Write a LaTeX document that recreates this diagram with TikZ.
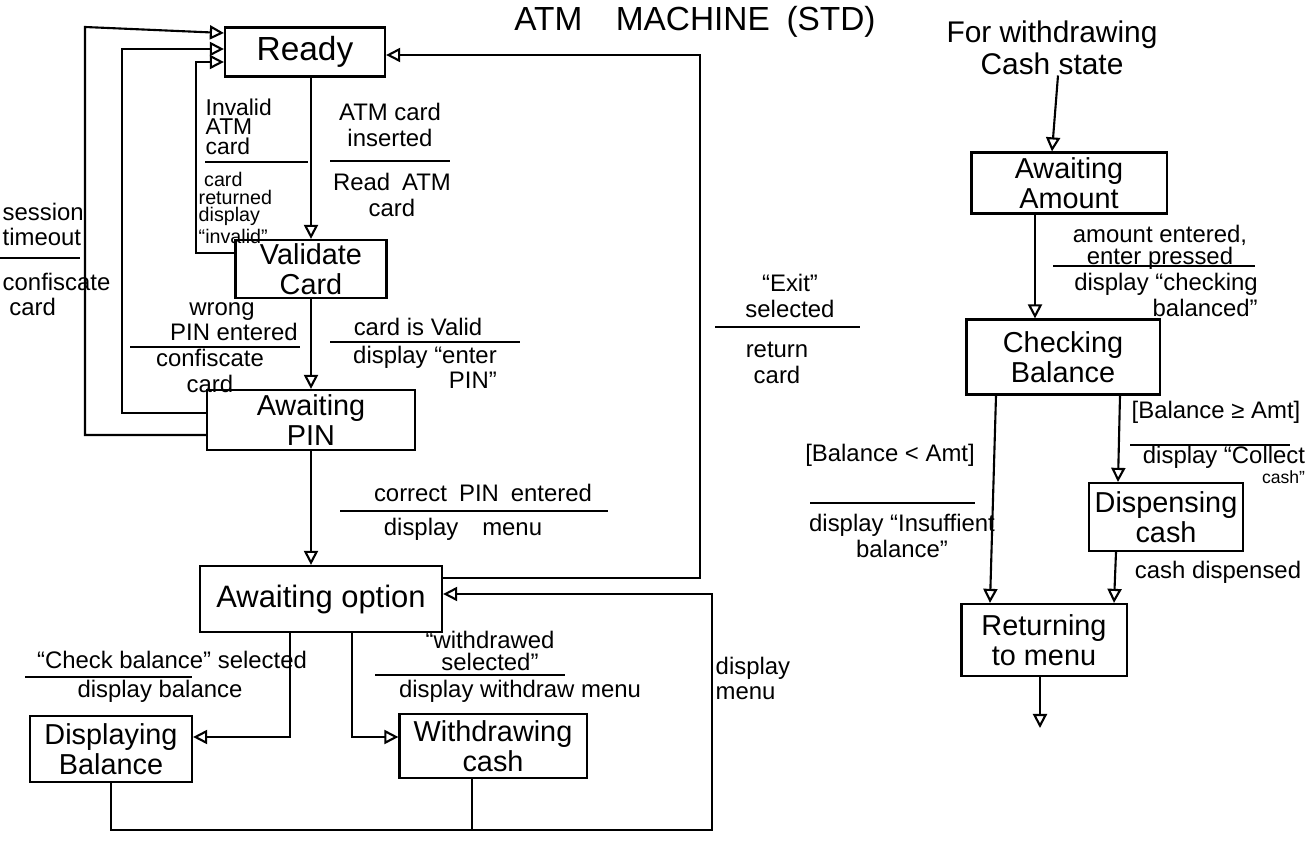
\documentclass[tikz,border=0pt]{standalone}
\usepackage{fontspec}
\setmainfont{Liberation Sans}
\usetikzlibrary{arrows.meta}

\begin{document}
\begin{tikzpicture}[x=0.01cm,y=-0.01cm,
    state/.style={draw,line width=0.6pt,inner sep=0pt,align=center,font=\fontsize{8.2}{8.6}\selectfont},
    lbl/.style={inner sep=0pt,align=center,font=\fontsize{6.8}{7.2}\selectfont},
    tip/.style={line width=0.6pt,-{Triangle[open,length=4pt,width=4pt]}},
    bar/.style={line width=0.5pt}]
  \useasboundingbox (0,0) rectangle (1306,849);

  % titles
  \node[font=\fontsize{9.5}{10}\selectfont] (title) at (695,22) {ATM\quad MACHINE\enspace(STD)};
  \node[lbl,font=\fontsize{8.5}{9}\selectfont] (start) at (1052,48) {For withdrawing\\Cash state};

  % states of the ATM
  \node[state,font=\fontsize{9.5}{10}\selectfont,minimum width=1.6cm,minimum height=0.49cm] (ready) at (305,52) {Ready};
  \node[state,minimum width=1.51cm,minimum height=0.58cm] (validate) at (311,269) {Validate\\Card};
  \node[state,minimum width=2.08cm,minimum height=0.6cm] (pin) at (311,420) {Awaiting\\PIN};
  \node[state,font=\fontsize{8.8}{9}\selectfont,minimum width=2.42cm,minimum height=0.66cm] (option) at (321,599) {Awaiting option};
  \node[state,minimum width=1.62cm,minimum height=0.66cm] (showbal) at (111,749) {Displaying\\Balance};
  \node[state,minimum width=1.87cm,minimum height=0.64cm] (withdraw) at (493,746) {Withdrawing\\cash};

  % states of withdrawing cash
  \node[state,minimum width=1.95cm,minimum height=0.61cm] (amount) at (1069,183) {Awaiting\\Amount};
  \node[state,minimum width=1.93cm,minimum height=0.75cm] (checkbal) at (1063,357) {Checking\\Balance};
  \node[state,minimum width=1.54cm,minimum height=0.68cm] (dispense) at (1166,517) {Dispensing\\cash};
  \node[state,minimum width=1.65cm,minimum height=0.72cm] (returnmenu) at (1044,640) {Returning\\to menu};
  \coordinate (finish) at (1040,728);

  % transitions
  \draw[tip] (validate.north |- ready.south) -- (validate.north);
  \draw[tip] (validate.west |- 0,253) -| (196,62) -- (ready.west |- 0,62);
  \draw[tip] (validate.south) -- (validate.south |- pin.north);
  \draw[tip] (pin.west |- 0,413) -| (122,49) -- (ready.west |- 0,49);
  \draw[tip] (pin.west |- 0,435) -| (85,27) -- (ready.west |- 0,33);
  \draw[tip] (pin.south) -- (pin.south |- option.north);
  \draw[tip] (option.east |- 0,578) -| (700,55) -- (ready.east |- 0,55);
  \draw[tip] (option.south -| 290,0) |- (showbal.east |- 0,737);
  \draw[tip] (option.south -| 352,0) |- (withdraw.west |- 0,737);
  \draw[tip] (showbal.south) |- (712,830) |- (option.east |- 0,594);
  \draw[line width=0.6pt] (withdraw.south -| 472,0) -- (472,830);

  \draw[tip] (start.south -| 1058,0) -- (amount.north -| 1052,0);
  \draw[tip] (amount.south -| 1035,0) -- (checkbal.north -| 1035,0);
  \draw[tip] (checkbal.south -| 996,0) -- (returnmenu.north -| 990,0);
  \draw[tip] (checkbal.south -| 1120,0) -- (dispense.north -| 1118,0);
  \draw[tip] (dispense.south -| 1116,0) -- (returnmenu.north -| 1114,0);
  \draw[tip] (returnmenu.south -| 1040,0) -- (finish);

  % guards and actions
  \node[lbl,align=left,anchor=north west,font=\fontsize{6.5}{5.6}\selectfont] (invalid) at (205,98) {Invalid\\ATM\\card};
  \draw[bar] (205,162) -- (308,162);
  \node[lbl,align=left,anchor=north west,font=\fontsize{5.6}{4.9}\selectfont] (returned) at (198,172) {\ card\\returned\\display\\``invalid''};

  \node[lbl] (inserted) at (390,125) {ATM card\\inserted};
  \draw[bar] (330,161) -- (450,161);
  \node[lbl] (readcard) at (392,195) {Read\enspace ATM\\card};

  \node[lbl,align=left,anchor=north west] (timeout) at (2,202) {session\\timeout};
  \draw[bar] (0,258) -- (80,258);
  \node[lbl,align=left,anchor=north west] (confis1) at (2,272) {confiscate\\\ card};

  \node[lbl] (wrongpin) at (222,322) {wrong\\\quad PIN entered};
  \draw[bar] (130,347) -- (300,347);
  \node[lbl] (confis2) at (210,371) {confiscate\\card};

  \node[lbl] (valid) at (418,327) {card is Valid};
  \draw[bar] (330,342) -- (520,342);
  \node[lbl,align=right] (enterpin) at (425,367) {display ``enter\\PIN''};

  \node[lbl] (exitsel) at (790,296) {``Exit''\\selected};
  \draw[bar] (715,327) -- (860,327);
  \node[lbl] (retcard) at (777,363) {return\\card};

  \node[lbl] (correct) at (483,493) {correct\enspace PIN\enspace entered};
  \draw[bar] (340,511) -- (608,511);
  \node[lbl] (dispmenu1) at (463,529) {display\quad menu};

  \node[lbl,align=left,anchor=north west] (dispmenu2) at (715,656) {display\\menu};

  \node[lbl] (checksel) at (172,660) {``Check balance'' selected};
  \draw[bar] (25,677) -- (192,677);
  \node[lbl] (dispbal) at (160,691) {display balance};

  \node[lbl,font=\fontsize{6.8}{6.2}\selectfont] (withsel) at (490,651) {``withdrawed\\selected''};
  \draw[bar] (375,675) -- (565,675);
  \node[lbl] (dispwith) at (520,691) {display withdraw menu};

  \node[lbl,font=\fontsize{6.8}{6.2}\selectfont] (entered) at (1160,247) {amount entered,\\enter pressed};
  \draw[bar] (1053,266) -- (1255,266);
  \node[lbl,font=\fontsize{6.8}{6.2}\selectfont,align=right] (dispcheck) at (1166,295) {display ``checking\\balanced''};

  \node[lbl] (less) at (890,455) {[Balance < Amt]};
  \draw[bar] (810,503) -- (975,503);
  \node[lbl] (insuff) at (902,536) {display ``Insuffient\\balance''};

  \node[lbl] (greater) at (1216,412) {[Balance ≥ Amt]};
  \draw[bar] (1130,445) -- (1290,445);
  \node[lbl,align=right,font=\fontsize{6.8}{5.5}\selectfont] (collect) at (1224,465) {display ``Collect\\{\fontsize{5}{5}\selectfont cash''}};

  \node[lbl] (dispensed) at (1218,572) {cash dispensed};
\end{tikzpicture}
\end{document}
